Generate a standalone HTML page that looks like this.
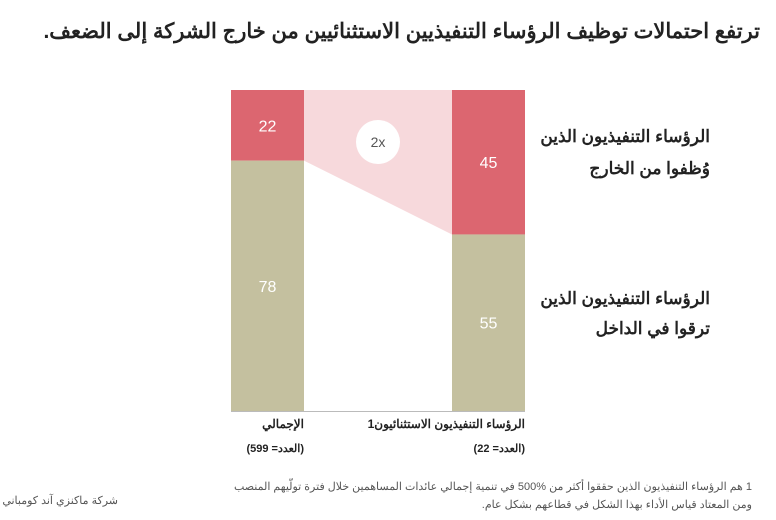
<!DOCTYPE html>
<html><head><meta charset="utf-8"><style>
body{margin:0;width:776px;height:515px;background:#fff;overflow:hidden;font-family:"Liberation Sans","Noto Sans CJK SC",sans-serif;}
svg text{font-family:"Liberation Sans","Noto Sans CJK SC",sans-serif;}
</style></head><body>
<svg width="776" height="515">
<text x="760" y="38" text-anchor="start" direction="rtl" font-size="21" font-weight="bold" fill="#222">ترتفع احتمالات توظيف الرؤساء التنفيذيين الاستثنائيين من خارج الشركة إلى الضعف.</text>
<g id="plot"></g>
<text x="710" y="142" text-anchor="start" direction="rtl" font-size="17" font-weight="bold" fill="#222">الرؤساء التنفيذيون الذين</text>
<text x="710" y="174" text-anchor="start" direction="rtl" font-size="17" font-weight="bold" fill="#222">وُظفوا من الخارج</text>
<text x="710" y="304" text-anchor="start" direction="rtl" font-size="17" font-weight="bold" fill="#222">الرؤساء التنفيذيون الذين</text>
<text x="710" y="334" text-anchor="start" direction="rtl" font-size="17" font-weight="bold" fill="#222">ترقوا في الداخل</text>
<text x="304" y="428" text-anchor="start" direction="rtl" font-size="12" font-weight="bold" fill="#222">الإجمالي</text>
<text x="304" y="452" text-anchor="start" direction="rtl" font-size="11" font-weight="bold" fill="#222">(العدد= 599)</text>
<text x="525" y="428" text-anchor="start" direction="rtl" font-size="12" font-weight="bold" fill="#222">الرؤساء التنفيذيون الاستثنائيون1</text>
<text x="525" y="452" text-anchor="start" direction="rtl" font-size="11" font-weight="bold" fill="#222">(العدد= 22)</text>
<text x="752" y="490" text-anchor="start" direction="rtl" font-size="11" fill="#555">1 هم الرؤساء التنفيذيون الذين حققوا أكثر من %500 في تنمية إجمالي عائدات المساهمين خلال فترة تولّيهم المنصب</text>
<text x="752" y="508" text-anchor="start" direction="rtl" font-size="11" fill="#555">ومن المعتاد قياس الأداء بهذا الشكل في قطاعهم بشكل عام.</text>
<text x="118" y="504" text-anchor="start" direction="rtl" font-size="11" fill="#555">شركة ماكنزي آند كومباني</text>
</svg>
<script>
const categories=["total","exceptional"];
const externalVals=[22,45];
const internalVals=[78,55];
const multiplierLabel="2x";
const NS="http://www.w3.org/2000/svg";
const g=document.getElementById("plot");
const top0=90,bottom0=411,barW=73,xs=[231,452];
function y(v){return top0+(bottom0-top0)*v/100;}
function mk(t,a){const e=document.createElementNS(NS,t);for(const k in a)e.setAttribute(k,a[k]);g.appendChild(e);return e;}
const poly=mk("polygon",{points:`${xs[0]+barW},${top0} ${xs[1]},${top0} ${xs[1]},${y(externalVals[1])} ${xs[0]+barW},${y(externalVals[0])}`,fill:"#f7d9dc"});


categories.forEach((c,i)=>{
  const r1=mk("rect",{x:xs[i],y:top0,width:barW,height:y(externalVals[i])-top0,fill:"#dc6670"});
  
  
  const r2=mk("rect",{x:xs[i],y:y(externalVals[i]),width:barW,height:y(externalVals[i]+internalVals[i])-y(externalVals[i]),fill:"#c4c09f"});
  
  
  const t1=mk("text",{x:xs[i]+barW/2,y:(top0+y(externalVals[i]))/2+6,"text-anchor":"middle","font-size":"16",fill:"#fff"});
  t1.textContent=externalVals[i];
  
  
  const t2=mk("text",{x:xs[i]+barW/2,y:(y(externalVals[i])+y(externalVals[i]+internalVals[i]))/2+6,"text-anchor":"middle","font-size":"16",fill:"#fff"});
  t2.textContent=internalVals[i];
  
  
});
const base=mk("line",{x1:xs[0],x2:xs[1]+barW,y1:bottom0+0.5,y2:bottom0+0.5,stroke:"#bbb","stroke-width":1});


const cx=(xs[0]+barW+xs[1])/2;
const circ=mk("circle",{cx:cx,cy:142,r:22,fill:"#fff"});


const ct=mk("text",{x:cx,y:147,"text-anchor":"middle","font-size":"14",fill:"#555"});
ct.textContent=multiplierLabel;


</script>
</body></html>
